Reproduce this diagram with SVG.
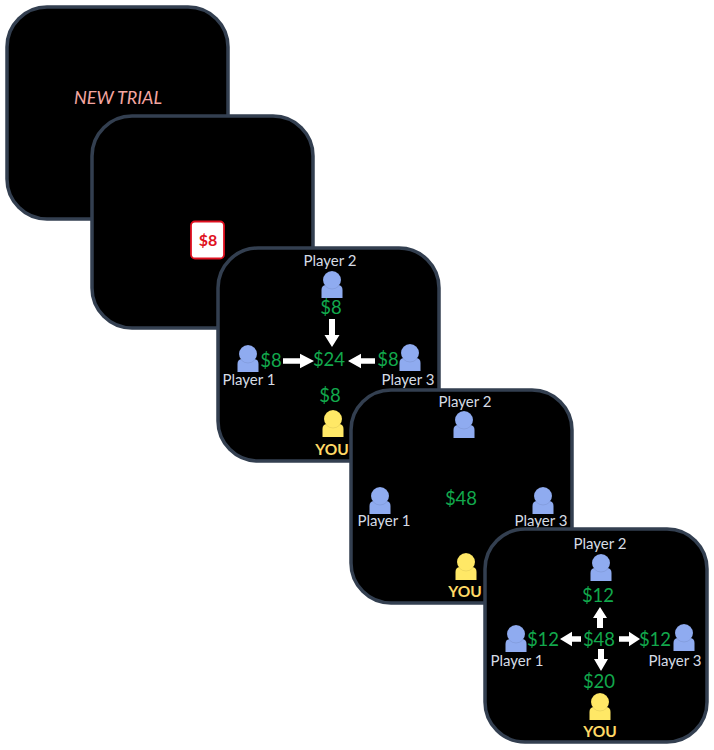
<svg xmlns="http://www.w3.org/2000/svg" width="714" height="750" viewBox="0 0 714 750">
<style>
text{font-family:"Lato","Open Sans",sans-serif;text-anchor:middle}
.panel{fill:#000;stroke:#333f50;stroke-width:3.5}
.pl{fill:#d6dce5;font-size:15px}
.m{fill:#12a84c;font-size:18.500px}
.you{fill:#ffd966;font-size:15.500px;font-weight:700}
.blue{fill:#8fabf0}
.yellow{fill:#ffe866}
.ar{fill:#fff}
</style>
<defs>
<g id="person">
<path d="M-10.500 18V10Q-10.500 5 -5.500 5H5.500Q10.500 5 10.500 10V18Z"/>
<circle r="9" stroke="#000" stroke-opacity=".12" stroke-width=".6"/>
</g>
</defs>
<g id="panel-1"><rect class="panel" x="7" y="7" width="221" height="212" rx="40"/>
<text x="118" y="104" fill="#f4a6a0" font-size="18" font-style="italic">NEW TRIAL</text></g>
<g id="panel-2"><rect class="panel" x="92" y="116" width="221" height="212" rx="40"/>
<rect x="191" y="221.500" width="33" height="37" rx="4" fill="#fff" stroke="#e01020" stroke-width="1.800"/>
<text x="208" y="246" fill="#e01020" font-size="16" font-weight="700">$8</text></g>
<g id="panel-3"><rect class="panel" x="218" y="248" width="221" height="213" rx="40"/>
<text class="pl" x="330" y="266">Player 2</text>
<use href="#person" class="blue" x="332" y="280"/>
<text class="m" x="331" y="314">$8</text>
<use href="#person" class="blue" x="248" y="354"/>
<text class="pl" x="249" y="385">Player 1</text>
<text class="m" x="271" y="367">$8</text>
<text class="m" x="329" y="366">$24</text>
<text class="m" x="388" y="366">$8</text>
<use href="#person" class="blue" x="410" y="353"/>
<text class="pl" x="408" y="385">Player 3</text>
<text class="m" x="330" y="402">$8</text>
<use href="#person" class="yellow" x="333" y="419"/>
<text class="you" x="332" y="455">YOU</text></g>
<g id="panel-4"><rect class="panel" x="351" y="390" width="221" height="213" rx="40"/>
<text class="pl" x="465" y="407">Player 2</text>
<use href="#person" class="blue" x="464" y="420"/>
<use href="#person" class="blue" x="380" y="496"/>
<text class="pl" x="384" y="526">Player 1</text>
<text class="m" x="461" y="505">$48</text>
<use href="#person" class="blue" x="543" y="496"/>
<text class="pl" x="541" y="526">Player 3</text>
<use href="#person" class="yellow" x="466" y="562"/>
<text class="you" x="465" y="597">YOU</text></g>
<g id="panel-5"><rect class="panel" x="485" y="529" width="222" height="213" rx="40"/>
<text class="pl" x="600" y="549">Player 2</text>
<use href="#person" class="blue" x="601" y="563"/>
<text class="m" x="598" y="602">$12</text>
<use href="#person" class="blue" x="516" y="634"/>
<text class="pl" x="517" y="666">Player 1</text>
<text class="m" x="543" y="646">$12</text>
<text class="m" x="599" y="646">$48</text>
<text class="m" x="655" y="646">$12</text>
<use href="#person" class="blue" x="684" y="633"/>
<text class="pl" x="675" y="666">Player 3</text>
<text class="m" x="599" y="688">$20</text>
<use href="#person" class="yellow" x="600" y="702"/>
<text class="you" x="600" y="737">YOU</text></g>
<g id="connectors">
<path class="ar" d="M329 319h6v16h4.500v0l-7.500 12l-7.500 -12h4.500z"/>
<path class="ar" d="M283 358.300h17v-4.500l14 7.200l-14 7.200v-4.500h-17z"/>
<path class="ar" d="M375 358.300h-14v-4.500l-13 7.200l13 7.200v-4.500h14z"/>
<path class="ar" d="M597 628h6v-10h4l-7 -11l-7 11h4z"/>
<path class="ar" d="M581 636.300h-9v-4.500l-12 7.200l12 7.200v-4.500h9z"/>
<path class="ar" d="M619 636.300h10v-4.500l11 7.200l-11 7.200v-4.500h-10z"/>
<path class="ar" d="M598 649h6v10h4l-7 12l-7 -12h4z"/>
</g>
</svg>
